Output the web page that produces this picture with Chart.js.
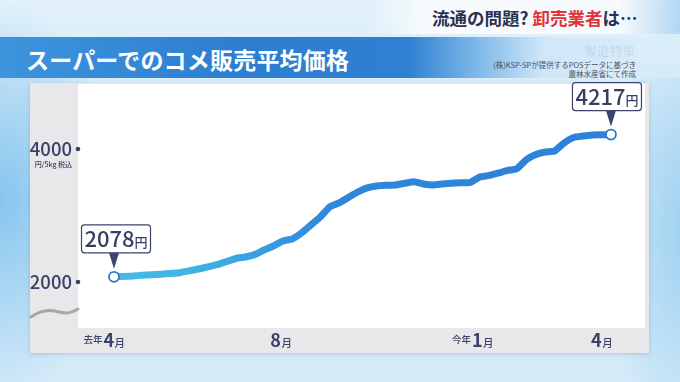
<!DOCTYPE html>
<html lang="ja">
<head>
<meta charset="utf-8">
<title>スーパーでのコメ販売平均価格</title>
<script src="https://cdn.jsdelivr.net/npm/chart.js@4.4.1/dist/chart.umd.min.js"></script>
<style>
html, body { margin: 0; padding: 0; }
body {
  width: 680px; height: 382px; overflow: hidden; position: relative;
  font-family: 'Noto Sans CJK JP', 'Noto Sans', sans-serif;
  background:
    radial-gradient(ellipse 120px 200px at 0px 200px, rgba(130,195,238,0.95), rgba(140,200,238,0) 100%),
    radial-gradient(ellipse 90px 220px at 690px 230px, rgba(150,205,240,0.9), rgba(150,205,240,0) 100%),
    linear-gradient(to bottom, #e2f1fa 0%, #d3eaf8 40%, #d5ebf8 100%);
}
#topband {
  position: absolute; left: 370px; top: 0; width: 310px; height: 34px;
  background: linear-gradient(to right, rgba(255,255,255,0) 0%, rgba(255,255,255,0.75) 18%, rgba(255,255,255,0.75) 80%, rgba(160,205,240,0.7) 100%);
}
#topband span.t {
  position: absolute; left: 62px; top: 5px; font-size: 17.5px; font-weight: 700; color: #2b3152; white-space: nowrap;
}
#topband span.r { color: #e2333b; }
#titleband {
  position: absolute; left: 0; top: 37px; width: 680px; height: 41px;
  background: linear-gradient(to right, #3d95dd 0%, #2d7ed1 35%, #2f80d2 60%, #7db7e9 70%, rgba(205,230,248,0.85) 80%, rgba(220,238,250,0.7) 100%);
}
#titleband h1 {
  margin: 0; position: absolute; left: 26px; top: 5px; font-size: 23px; font-weight: 700; color: #fff; letter-spacing: 0.2px; white-space: nowrap;
}
#mark { position: absolute; right: 44px; top: 42px; font-size: 12px; color: rgba(120,140,170,0.3); font-family: 'Noto Serif CJK JP', serif; letter-spacing: 1px; }
#source { position: absolute; right: 44px; top: 60px; font-size: 7.5px; line-height: 9px; color: #4d4f5c; text-align: right; }
#chart { position: absolute; left: 0; top: 0; }
</style>
</head>
<body>
<div id="topband"><span class="t">流通の問題? <span class="r">卸売業者</span>は…</span></div>
<div id="titleband"><h1>スーパーでのコメ販売平均価格</h1></div>
<div id="mark">報道特集</div>
<div id="source">(株)KSP-SPが提供するPOSデータに基づき<br>農林水産省にて作成</div>
<canvas id="chart" width="680" height="382"></canvas>
<script>
"use strict";

// weekly average price, yen per 5kg (tax incl.), from last April to this April
var prices = [2078, 2084, 2090, 2101, 2108, 2117, 2129, 2140, 2167, 2195,
              2226, 2260, 2305, 2353, 2376, 2411, 2481, 2541, 2617, 2647,
              2737, 2857, 2977, 3128, 3188, 3271, 3353, 3414, 3444, 3454,
              3459, 3484, 3507, 3474, 3459, 3474, 3486, 3492, 3496, 3579,
              3602, 3639, 3677, 3707, 3842, 3917, 3955, 3970, 4090, 4173,
              4195, 4211, 4214, 4217];

// month ticks (position in weeks from the first point)
var monthTicks = [0, 17.8, 39.3, 52.0];
var monthLabels = ['4', '8', '1', '4'];
var yearTags = ['去年', '', '今年', ''];

var yTicks = [2000, 4000];
var yUnit = '円/5kg 税込';

var FONT = "'Noto Sans CJK JP', 'Noto Sans', sans-serif";
var NAVY = '#3b4268';

var last = prices.length - 1;

var panelPlugin = {
    id: 'panel',
    beforeDraw: function (chart) {
        var c = chart.ctx, a = chart.chartArea;
        var xs = chart.scales.x, ys = chart.scales.y;
        c.save();
        // gray frame
        c.shadowColor = 'rgba(60,100,140,0.25)';
        c.shadowBlur = 4;
        c.shadowOffsetY = 1;
        c.fillStyle = '#e8e8eb';
        c.fillRect(30, 83, 619, 270);
        c.shadowColor = 'transparent';
        // plot area
        c.fillStyle = '#ffffff';
        c.fillRect(a.left, a.top, a.right - a.left, a.bottom - a.top);

        // axis break
        c.strokeStyle = '#a6a6ab';
        c.lineWidth = 3;
        c.lineCap = 'round';
        c.beginPath();
        c.moveTo(31, 317);
        c.bezierCurveTo(38, 312, 46, 309, 55, 311);
        c.bezierCurveTo(63, 313, 68, 315, 78, 309);
        c.stroke();

        // y ticks
        c.fillStyle = NAVY;
        c.textBaseline = 'middle';
        yTicks.forEach(function (v) {
            var y = ys.getPixelForValue(v);
            c.font = '500 18.5px ' + FONT;
            c.textAlign = 'right';
            c.fillText(String(v), 72, y);
            c.beginPath();
            c.arc(78, y, 2.3, 0, Math.PI * 2);
            c.fill();
        });
        c.font = '500 7px ' + FONT;
        c.textAlign = 'right';
        c.fillText(yUnit, 72, ys.getPixelForValue(4000) + 15);

        // x ticks
        c.textBaseline = 'alphabetic';
        monthTicks.forEach(function (w, i) {
            var x = xs.getPixelForValue(w);
            c.font = '600 18px ' + FONT;
            var dw = c.measureText(monthLabels[i]).width;
            c.font = '500 10.5px ' + FONT;
            var mw = c.measureText('月').width;
            var x0 = x - (dw + mw) / 2;
            c.textAlign = 'left';
            c.font = '600 18px ' + FONT;
            c.fillText(monthLabels[i], x0, 347);
            c.font = '500 10.5px ' + FONT;
            c.fillText('月', x0 + dw + 0.5, 347);
            if (yearTags[i]) {
                c.font = '500 9.5px ' + FONT;
                c.textAlign = 'right';
                c.fillText(yearTags[i], x0 - 1, 343);
            }
        });
        c.restore();
    }
};

function callout(c, px, py, value, dx) {
    var w = 69, h = 28;
    var cx = px + dx;
    var bx = cx - w / 2, by = py - 24 - h;
    c.save();
    c.fillStyle = '#ffffff';
    c.strokeStyle = '#3b4470';
    c.lineWidth = 1.2;
    c.beginPath();
    c.roundRect(bx, by, w, h, 3);
    c.fill();
    c.stroke();
    // pointer
    c.fillStyle = '#3b4470';
    c.beginPath();
    c.moveTo(px - 5, by + h);
    c.lineTo(px + 5, by + h);
    c.lineTo(px, py - 8);
    c.closePath();
    c.fill();
    // text
    c.fillStyle = '#363e66';
    c.font = '500 22px ' + FONT;
    var t = String(value);
    var tw = c.measureText(t).width;
    c.font = '500 13px ' + FONT;
    var uw = c.measureText('円').width;
    var tx = cx - (tw + uw) / 2;
    c.textAlign = 'left';
    c.textBaseline = 'alphabetic';
    c.font = '500 22px ' + FONT;
    c.fillText(t, tx, by + 22);
    c.font = '500 13px ' + FONT;
    c.fillText('円', tx + tw, by + 22);
    c.restore();
}

var calloutPlugin = {
    id: 'callouts',
    afterDatasetsDraw: function (chart) {
        var meta = chart.getDatasetMeta(0);
        var p0 = meta.data[0], p1 = meta.data[last];
        callout(chart.ctx, p0.x, p0.y, prices[0], 2);
        callout(chart.ctx, p1.x, p1.y, prices[last], -4);
    }
};

var ctx = document.getElementById('chart').getContext('2d');
var myChart = new Chart(ctx, {
    type: 'line',
    data: {
        datasets: [{
            data: prices.map(function (v, i) { return { x: i, y: v }; }),
            borderWidth: 7,
            borderCapStyle: 'round',
            borderJoinStyle: 'round',
            tension: 0.15,
            borderColor: function (context) {
                var a = context.chart.chartArea;
                if (!a) return '#2f80d8';
                var g = context.chart.ctx.createLinearGradient(a.left, 0, a.right, 0);
                g.addColorStop(0, '#45c0ea');
                g.addColorStop(0.2, '#40b3e6');
                g.addColorStop(0.45, '#2f87db');
                g.addColorStop(1, '#2e80d8');
                return g;
            },
            pointRadius: function (context) {
                return (context.dataIndex === 0 || context.dataIndex === last) ? 5 : 0;
            },
            pointHoverRadius: 0,
            pointBackgroundColor: '#ffffff',
            pointBorderColor: '#2f78c6',
            pointBorderWidth: 1.8
        }]
    },
    options: {
        responsive: false,
        animation: false,
        layout: { padding: { left: 78, top: 84, right: 35, bottom: 54 } },
        plugins: { legend: { display: false }, tooltip: { enabled: false } },
        scales: {
            x: { type: 'linear', min: -3.84, max: 56.63, display: false },
            y: { min: 1308, max: 4977, display: false }
        }
    },
    plugins: [panelPlugin, calloutPlugin]
});
</script>
</body>
</html>
